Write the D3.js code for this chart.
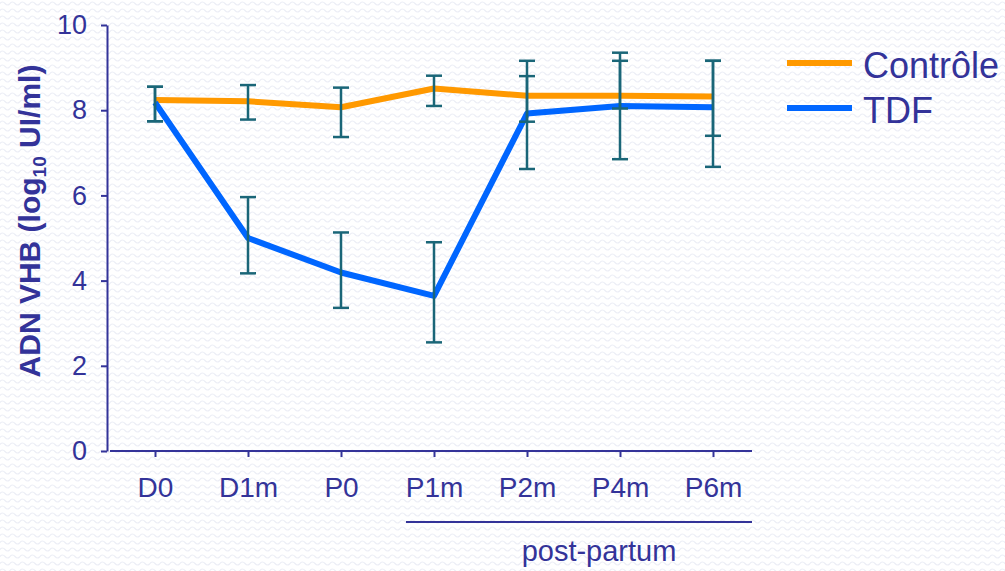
<!DOCTYPE html>
<html><head><meta charset="utf-8">
<script src="https://cdn.jsdelivr.net/npm/d3@7"></script>
<style>
html,body{margin:0;padding:0;background:#fff;}
svg{display:block;font-family:"Liberation Sans",Arial,sans-serif;}
</style></head>
<body>
<svg id="chart" width="1005" height="571"></svg>
<script>
const categories = ["D0","D1m","P0","P1m","P2m","P4m","P6m"];
const controle   = [8.24, 8.21, 8.07, 8.51, 8.34, 8.34, 8.32];
const tdf        = [8.18, 5.00, 4.19, 3.64, 7.92, 8.10, 8.07];
const controleHi = [8.55, 8.59, 8.53, 8.81, 8.80, 9.35, 9.16];
const controleLo = [7.74, 7.78, 7.37, 8.10, 7.73, 8.04, 7.40];
const tdfHi      = [8.55, 5.96, 5.13, 4.90, 9.16, 9.16, 9.16];
const tdfLo      = [7.74, 4.17, 3.36, 2.55, 6.62, 6.85, 6.67];
const yTicks     = [0, 2, 4, 6, 8, 10];
const seriesNames = ["Contrôle", "TDF"];
const periodLabel = "post-partum";
const postPartumCats = ["P1m","P6m"];

const INK = "#333399", ERR = "#1a6678";
const COLORS = ["#ff9900", "#0066ff"];

const svg = d3.select("#chart");

// faint wavy background pattern
const defs = svg.append("defs");
const pat = defs.append("pattern").attr("id","bg").attr("patternUnits","userSpaceOnUse")
  .attr("width",10).attr("height",7);
pat.append("path").attr("d","M0,3.5 Q2.5,0.5 5,3.5 T10,3.5").attr("fill","none")
  .attr("stroke","#eceef6").attr("stroke-width",1.2);
svg.append("rect").attr("width",1005).attr("height",571).attr("fill","#fff");
svg.append("rect").attr("width",1005).attr("height",571).attr("fill","url(#bg)");

const x = d3.scalePoint().domain(categories).range([155, 713]);
const y = d3.scaleLinear().domain([0, 10]).range([451, 25]);

// Y axis
const yAx = svg.append("g").attr("transform","translate(107,0)")
  .call(d3.axisLeft(y).tickValues(yTicks).tickSize(6).tickSizeOuter(0).tickPadding(14));
yAx.select(".domain").attr("stroke",INK).attr("stroke-width",2);
yAx.selectAll(".tick line").attr("stroke",INK).attr("stroke-width",2);
yAx.selectAll(".tick text").attr("fill",INK).attr("font-size",27)
  .attr("font-family","'Liberation Sans',Arial,sans-serif");

// X axis
const xAx = svg.append("g").attr("transform","translate(0,451)")
  .call(d3.axisBottom(x).tickSize(6).tickSizeOuter(0).tickPadding(20));
xAx.select(".domain").remove();
xAx.append("line").attr("x1",110).attr("x2",752).attr("y1",0).attr("y2",0)
  .attr("stroke",INK).attr("stroke-width",2);
xAx.selectAll(".tick line").attr("stroke",INK).attr("stroke-width",2);
xAx.selectAll(".tick text").attr("fill",INK).attr("font-size",28)
  .attr("font-family","'Liberation Sans',Arial,sans-serif");

// post-partum bracket
const ppx0 = x(postPartumCats[0]) - 28, ppx1 = 752;
svg.append("line").attr("x1",ppx0).attr("x2",ppx1).attr("y1",522).attr("y2",522)
  .attr("stroke",INK).attr("stroke-width",2);
svg.append("text").attr("x",599).attr("y",561).attr("text-anchor","middle")
  .attr("fill",INK).attr("font-size",29).text(periodLabel);

// Y title
const yt = svg.append("text").attr("transform","translate(40,221) rotate(-90)")
  .attr("text-anchor","middle").attr("fill",INK).attr("font-size",30).attr("font-weight","bold");
yt.append("tspan").text("ADN VHB (log");
yt.append("tspan").attr("font-size",19).attr("dy",6).text("10");
yt.append("tspan").attr("dy",-6).text(" UI/ml)");

// lines
const series = [controle, tdf];
const line = d3.line().x((d,i)=>x(categories[i])).y(d=>y(d));
series.forEach((s,k)=>{
  svg.append("path").datum(s).attr("d",line).attr("fill","none")
    .attr("stroke",COLORS[k]).attr("stroke-width",6).attr("stroke-linejoin","round");
});

// error bars
const his = [controleHi, tdfHi], los = [controleLo, tdfLo];
const cap = 8;
his.forEach((hi,k)=>{
  const g = svg.append("g").attr("stroke",ERR).attr("stroke-width",2.5);
  categories.forEach((c,i)=>{
    const cx = x(c);
    g.append("line").attr("x1",cx).attr("x2",cx).attr("y1",y(hi[i])).attr("y2",y(los[k][i]));
    g.append("line").attr("x1",cx-cap).attr("x2",cx+cap).attr("y1",y(hi[i])).attr("y2",y(hi[i]));
    g.append("line").attr("x1",cx-cap).attr("x2",cx+cap).attr("y1",y(los[k][i])).attr("y2",y(los[k][i]));
  });
});

// legend
const lg = svg.append("g");
seriesNames.forEach((n,k)=>{
  const ly = 63 + k*45;
  lg.append("line").attr("x1",787).attr("x2",852).attr("y1",ly).attr("y2",ly)
    .attr("stroke",COLORS[k]).attr("stroke-width",6);
  lg.append("text").attr("x",863).attr("y",ly+15).attr("fill",INK).attr("font-size",36).text(n);
});
</script>
</body></html>
